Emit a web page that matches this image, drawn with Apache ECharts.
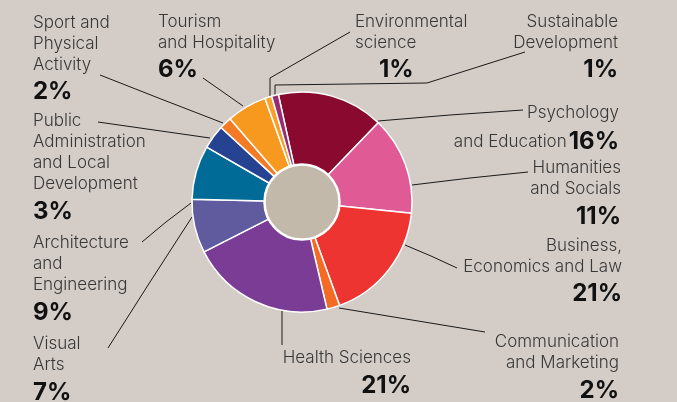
<!DOCTYPE html>
<html>
<head>
<meta charset="utf-8">
<script src="https://cdn.jsdelivr.net/npm/echarts@6/dist/echarts.min.js"></script>
<style>
  html, body { margin: 0; padding: 0; background: #d3ccc7; }
  #chart { width: 677px; height: 402px; }
</style>
</head>
<body>
<div id="chart"></div>
<script>
// ---- data ----
const categories = [
  'Psychology\nand Education',
  'Humanities\nand Socials',
  'Business,\nEconomics and Law',
  'Communication\nand Marketing',
  'Health Sciences',
  'Visual\nArts',
  'Architecture\nand\nEngineering',
  'Public\nAdministration\nand Local\nDevelopment',
  'Sport and\nPhysical\nActivity',
  'Tourism\nand Hospitality',
  'Environmental\nscience',
  'Sustainable\nDevelopment'
];
// slice sizes as drawn in the picture (share of the circle, %)
const values = [15.6, 14.4, 17.8, 1.9, 21.1, 7.9, 7.9, 3.5, 1.8, 5.9, 1.0, 1.0];
// percentages as printed on the picture
const percentLabels = ['16%', '11%', '21%', '2%', '21%', '7%', '9%', '3%', '2%', '6%', '1%', '1%'];

// ---- styles / layout ----
const colors = ['#8a0a2f', '#e05a96', '#ee3431', '#f36b25', '#7b3c96', '#5f5b9e',
                '#006b97', '#264392', '#f47b23', '#f7991f', '#f9a02a', '#9a2a72'];
const BASE = 15.5; // first baseline offset from label top
const labelPlace = [
  { align: 'right', x: 619, b: 117.7 },
  { align: 'right', x: 621, b: 173.3 },
  { align: 'right', x: 622, b: 250.7 },
  { align: 'right', x: 619, b: 347.3 },
  { align: 'right', x: 411, b: 363.3 },
  { align: 'left',  x: 33,  b: 349.3 },
  { align: 'left',  x: 33,  b: 248.3 },
  { align: 'left',  x: 33,  b: 126 },
  { align: 'left',  x: 33,  b: 27.7 },
  { align: 'left',  x: 158, b: 26.7 },
  { align: 'left',  x: 355, b: 26.7 },
  { align: 'right', x: 618, b: 26.7 }
];
const leaderLines = [
  [[378, 121], [450, 115], [523, 110]],
  [[412, 185], [470, 178], [528, 172]],
  [[405, 245], [431, 256], [457, 268]],
  [[339, 308], [412, 320], [485, 332]],
  [[282, 311], [282, 328], [282, 345]],
  [[192, 217], [150, 282], [108, 348]],
  [[191, 203], [166, 222], [142, 242]],
  [[210, 138], [154, 130], [98, 122]],
  [[223, 123], [161, 99], [100, 75]],
  [[243, 106], [223, 92], [203, 78]],
  [[270, 96], [270, 78], [350, 32]],
  [[275, 96], [275, 85], [427, 83], [525, 52]]
];

const FONT = 'Inter';
const rich = {
  n: { fontFamily: FONT, fontSize: 17, fontWeight: 300, color: '#383838', lineHeight: 21 },
  n2: { fontFamily: FONT, fontSize: 17, fontWeight: 300, color: '#383838', lineHeight: 21, padding: [1, 2, 0, 0] },
  p: { fontFamily: FONT, fontSize: 24, fontWeight: 700, color: '#111', lineHeight: 34 },
  p0: { fontFamily: FONT, fontSize: 24, fontWeight: 700, color: '#111', lineHeight: 37 },
  pe: { fontFamily: FONT, fontSize: 24, fontWeight: 700, color: '#111', lineHeight: 34, padding: [0, 0, 0, 24] }
};

function fmt(params) {
  const i = params.dataIndex;
  const lines = categories[i].split('\n');
  if (i === 0) {
    return '{n|' + lines[0] + '}\n{n2|' + lines[1] + '}{p0|' + percentLabels[i] + '}';
  }
  const pStyle = (i === 10) ? 'pe' : 'p';
  return lines.map(l => '{n|' + l + '}').join('\n') + '\n{' + pStyle + '|' + percentLabels[i] + '}';
}

const chart = echarts.init(document.getElementById('chart'), null, { renderer: 'canvas' });
chart.setOption({
  backgroundColor: '#d3ccc7',
  animation: false,
  series: [
    {
      type: 'pie',
      center: [302, 202],
      radius: [36, 110],
      startAngle: 102.4,
      clockwise: true,
      avoidLabelOverlap: false,
      itemStyle: { borderColor: '#ffffff', borderWidth: 1.5 },
      label: {
        show: true,
        position: 'outside',
        formatter: fmt,
        rich: rich
      },
      labelLine: { show: true, lineStyle: { color: '#1a1a1a', width: 1 }, smooth: false },
      labelLayout: function (params) {
        const i = params.dataIndex;
        const lp = labelPlace[i];
        return {
          x: lp.x,
          y: lp.b - BASE,
          align: lp.align,
          verticalAlign: 'top',
          labelLinePoints: leaderLines[i]
        };
      },
      data: categories.map((c, i) => ({ name: c, value: values[i], itemStyle: { color: colors[i] } }))
    },
    {
      type: 'pie',
      center: [302, 202],
      radius: [0, 37.5],
      silent: true,
      z: 5,
      label: { show: false },
      labelLine: { show: false },
      itemStyle: { color: '#c3b9aa', borderColor: '#ffffff', borderWidth: 2.5 },
      data: [{ name: 'center', value: 1 }]
    }
  ]
});
</script>
</body>
</html>
